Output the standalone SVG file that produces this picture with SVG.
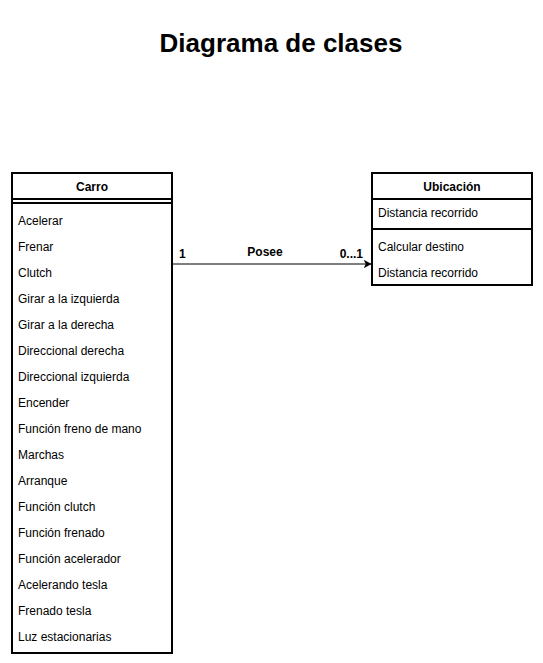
<svg xmlns="http://www.w3.org/2000/svg" width="543" height="663" viewBox="0 0 543 663">
  <style>
    .box { fill: #ffffff; stroke: #000000; stroke-width: 2; }
    .sep { fill: none; stroke: #000000; stroke-width: 2; }
    .hdr { font-family: "Liberation Sans", Arial, sans-serif; font-size: 12px; font-weight: bold; text-anchor: middle; fill: #000; }
    .item { font-family: "Liberation Sans", Arial, sans-serif; font-size: 12px; fill: #000; }
    .lbl { font-family: "Liberation Sans", Arial, sans-serif; font-size: 12px; font-weight: bold; fill: #000; }
    .title { font-family: "Liberation Sans", Arial, sans-serif; font-size: 26px; font-weight: bold; text-anchor: middle; fill: #000; }
    .edge { fill: none; stroke: #000000; stroke-width: 1.2; }
  </style>
  <defs>
    <marker id="arrow" viewBox="0 0 10 10" refX="9" refY="5" markerWidth="8" markerHeight="8" markerUnits="userSpaceOnUse" orient="auto">
      <path d="M0,0 L10,5 L0,10 L2.5,5 Z" fill="#000"/>
    </marker>
  </defs>

  <rect width="543" height="663" fill="#ffffff"/>
  <text class="title" x="281" y="52">Diagrama de clases</text>

  <g id="carro">
    <rect class="box" x="12" y="173" width="160" height="480"/>
    <line class="sep" x1="12" y1="199" x2="172" y2="199"/>
    <line class="sep" x1="12" y1="203" x2="172" y2="203"/>
    <text class="hdr" x="92" y="191">Carro</text>
    <text class="item" x="18" y="225">Acelerar</text>
    <text class="item" x="18" y="251">Frenar</text>
    <text class="item" x="18" y="277">Clutch</text>
    <text class="item" x="18" y="303">Girar a la izquierda</text>
    <text class="item" x="18" y="329">Girar a la derecha</text>
    <text class="item" x="18" y="355">Direccional derecha</text>
    <text class="item" x="18" y="381">Direccional izquierda</text>
    <text class="item" x="18" y="407">Encender</text>
    <text class="item" x="18" y="433">Función freno de mano</text>
    <text class="item" x="18" y="459">Marchas</text>
    <text class="item" x="18" y="485">Arranque</text>
    <text class="item" x="18" y="511">Función clutch</text>
    <text class="item" x="18" y="537">Función frenado</text>
    <text class="item" x="18" y="563">Función acelerador</text>
    <text class="item" x="18" y="589">Acelerando tesla</text>
    <text class="item" x="18" y="615">Frenado tesla</text>
    <text class="item" x="18" y="641">Luz estacionarias</text>
  </g>

  <g id="ubicacion">
    <rect class="box" x="372" y="173" width="160" height="112"/>
    <line class="sep" x1="372" y1="199" x2="532" y2="199"/>
    <line class="sep" x1="372" y1="229" x2="532" y2="229"/>
    <text class="hdr" x="452" y="191">Ubicación</text>
    <text class="item" x="378" y="217">Distancia recorrido</text>
    <text class="item" x="378" y="251">Calcular destino</text>
    <text class="item" x="378" y="277">Distancia recorrido</text>
  </g>

  <g id="connectors">
    <line class="edge" x1="172" y1="264" x2="371" y2="264" marker-end="url(#arrow)"/>
    <text class="lbl" x="179" y="258">1</text>
    <text class="lbl" x="265" y="256" text-anchor="middle">Posee</text>
    <text class="lbl" x="363" y="258" text-anchor="end">0...1</text>
  </g>
</svg>
